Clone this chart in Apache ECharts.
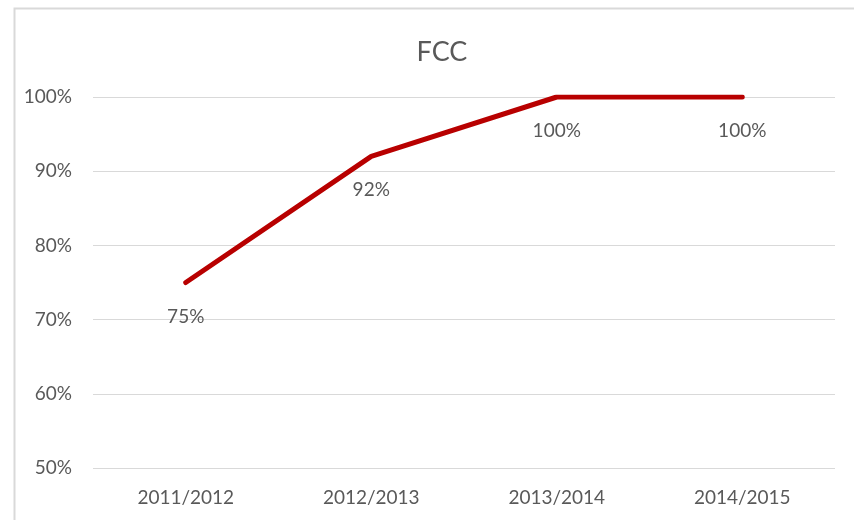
<!DOCTYPE html>
<html><head><meta charset="utf-8">
<script src="https://cdn.jsdelivr.net/npm/echarts@6/dist/echarts.min.js"></script>
<style>html,body{margin:0;padding:0;background:#fff;}#c{width:854px;height:520px;}</style>
</head><body><div id="c"></div>
<script>
const categories = ['2011/2012', '2012/2013', '2013/2014', '2014/2015'];
const values = [75, 92, 100, 100];
const yTicks = [50, 60, 70, 80, 90, 100];

const chart = echarts.init(document.getElementById('c'), null, {renderer: 'canvas'});
const font = 'Lato, "Open Sans", sans-serif';
chart.setOption({
  animation: false,
  backgroundColor: '#fff',
  title: {
    text: 'FCC', left: 437, top: 34, textAlign: 'center',
    textStyle: {fontFamily: font, fontSize: 27, fontWeight: 'normal', color: '#595959'}
  },
  graphic: [{
    type: 'rect', shape: {x: 14.5, y: 8.5, width: 900, height: 600},
    style: {fill: 'none', stroke: '#d9d9d9', lineWidth: 2}, silent: true
  }],
  grid: {left: 93, right: 19, top: 97, bottom: 52, containLabel: false},
  xAxis: {
    type: 'category', data: categories, boundaryGap: true,
    axisLine: {show: false}, axisTick: {show: false},
    axisLabel: {fontFamily: font, fontSize: 19, color: '#595959', margin: 20}
  },
  yAxis: {
    type: 'value', min: yTicks[0], max: yTicks[yTicks.length - 1], interval: 10,
    axisLine: {show: false}, axisTick: {show: false},
    axisLabel: {fontFamily: font, fontSize: 19, color: '#595959', margin: 21, formatter: v => v + '%'},
    splitLine: {lineStyle: {color: '#d9d9d9', width: 1}}
  },
  series: [{
    type: 'line', data: values, symbol: 'circle', symbolSize: 1, showSymbol: true,
    lineStyle: {color: '#B80000', width: 5, cap: 'round', join: 'round'},
    itemStyle: {color: '#B80000', opacity: 0},
    label: {show: true, position: 'bottom', distance: 24, formatter: p => p.value + '%',
      fontFamily: font, fontSize: 19, color: '#595959', opacity: 1}
  }]
});
</script></body></html>
